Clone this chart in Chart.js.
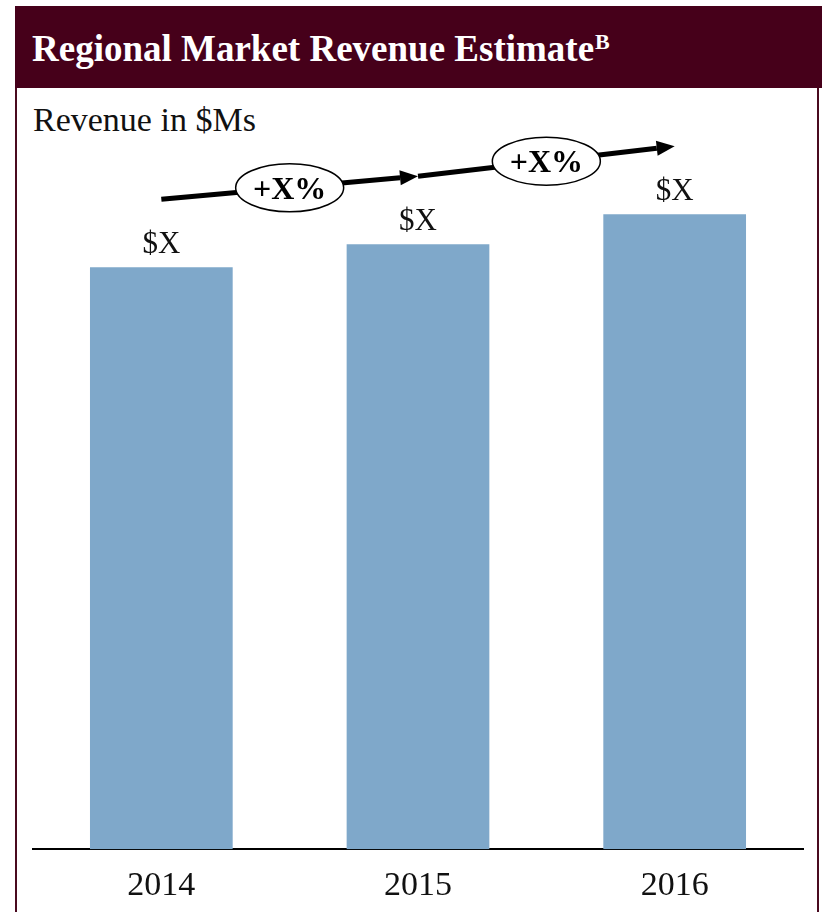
<!DOCTYPE html>
<html>
<head>
<meta charset="utf-8">
<script src="https://cdn.jsdelivr.net/npm/chart.js@4"></script>
<style>
  html, body { margin: 0; padding: 0; background: #ffffff; }
  body { width: 822px; height: 912px; position: relative; overflow: hidden; }
  .frame {
    position: absolute; left: 15px; top: 6px; width: 804px; height: 930px;
    border: 2px solid #4a0a1f; box-sizing: border-box;
  }
  .header {
    position: absolute; left: 15px; top: 6px; width: 807px; height: 82px;
    background: #46001a;
  }
  .title {
    position: absolute; left: 32px; top: 30px; margin: 0;
    font-family: "Liberation Serif", serif; font-weight: bold; font-size: 37px;
    line-height: 1; color: #ffffff; white-space: nowrap;
  }
  .title .note { font-size: 22px; position: relative; top: -12px; margin-left: 1px; }
  .subtitle {
    position: absolute; left: 33px; top: 103px;
    font-family: "Liberation Serif", serif; font-size: 34px; line-height: 1;
    color: #111111; white-space: nowrap;
  }
  #chart { position: absolute; left: 0; top: 0; }
</style>
</head>
<body>
<div class="frame"></div>
<div class="header"></div>
<div class="title">Regional Market Revenue Estimate<span class="note">B</span></div>
<div class="subtitle">Revenue in $Ms</div>
<canvas id="chart" width="822" height="930"></canvas>
<script>
// Annual revenue by year ($Ms)
const years = ['2014', '2015', '2016'];
const revenue = [581, 604, 634];
const valueLabels = ['$X', '$X', '$X'];
const growthLabels = ['+X%', '+X%'];

const SERIF = '"Liberation Serif", "Times New Roman", serif';

// Value labels above each bar
const valueLabelPlugin = {
  id: 'valueLabels',
  afterDatasetsDraw(chart) {
    const ctx = chart.ctx;
    const bars = chart.getDatasetMeta(0).data;
    ctx.save();
    ctx.font = '31px ' + SERIF;
    ctx.fillStyle = '#111111';
    ctx.textAlign = 'center';
    ctx.textBaseline = 'alphabetic';
    bars.forEach((bar, i) => {
      ctx.fillText(valueLabels[i], bar.x, bar.y - 14);
    });
    ctx.restore();
  }
};

// Year-over-year growth arrows with an oval callout on each
const growthArrowPlugin = {
  id: 'growthArrows',
  afterDatasetsDraw(chart) {
    const ctx = chart.ctx;
    const bars = chart.getDatasetMeta(0).data;
    const lift = 68;
    ctx.save();
    for (let i = 0; i < bars.length - 1; i++) {
      const x1 = bars[i].x, y1 = bars[i].y - lift;
      const x2 = bars[i + 1].x, y2 = bars[i + 1].y - lift;
      const ang = Math.atan2(y2 - y1, x2 - x1);
      const headLen = 18, headHalf = 7.5;
      const bx = x2 - headLen * Math.cos(ang), by = y2 - headLen * Math.sin(ang);

      ctx.strokeStyle = '#000000';
      ctx.lineWidth = 5;
      ctx.lineCap = 'butt';
      ctx.beginPath();
      ctx.moveTo(x1, y1);
      ctx.lineTo(bx, by);
      ctx.stroke();

      ctx.fillStyle = '#000000';
      ctx.beginPath();
      ctx.moveTo(x2, y2);
      ctx.lineTo(bx + headHalf * Math.sin(ang), by - headHalf * Math.cos(ang));
      ctx.lineTo(bx - headHalf * Math.sin(ang), by + headHalf * Math.cos(ang));
      ctx.closePath();
      ctx.fill();

      const mx = (x1 + x2) / 2, my = (y1 + y2) / 2;
      ctx.beginPath();
      ctx.ellipse(mx, my, 54, 24, 0, 0, Math.PI * 2);
      ctx.fillStyle = '#ffffff';
      ctx.fill();
      ctx.lineWidth = 1.5;
      ctx.strokeStyle = '#000000';
      ctx.stroke();

      ctx.fillStyle = '#000000';
      ctx.font = 'bold 32px ' + SERIF;
      ctx.textAlign = 'center';
      ctx.textBaseline = 'alphabetic';
      ctx.fillText(growthLabels[i], mx, my + 11);
    }
    ctx.restore();
  }
};

new Chart(document.getElementById('chart'), {
  type: 'bar',
  data: {
    labels: years,
    datasets: [{
      data: revenue,
      backgroundColor: '#7fa8ca',
      borderWidth: 0,
      categoryPercentage: 1,
      barPercentage: 0.556
    }]
  },
  options: {
    responsive: false,
    animation: false,
    layout: { padding: { left: 33, right: 19, top: 98, bottom: 8 } },
    plugins: { legend: { display: false }, tooltip: { enabled: false }, title: { display: false } },
    scales: {
      x: {
        grid: { display: false, drawTicks: false },
        border: { display: true, color: '#000000', width: 2 },
        ticks: {
          color: '#111111',
          padding: 16,
          font: { family: SERIF, size: 34 }
        }
      },
      y: {
        display: false,
        min: 0,
        max: 750
      }
    }
  },
  plugins: [valueLabelPlugin, growthArrowPlugin]
});
</script>
</body>
</html>
